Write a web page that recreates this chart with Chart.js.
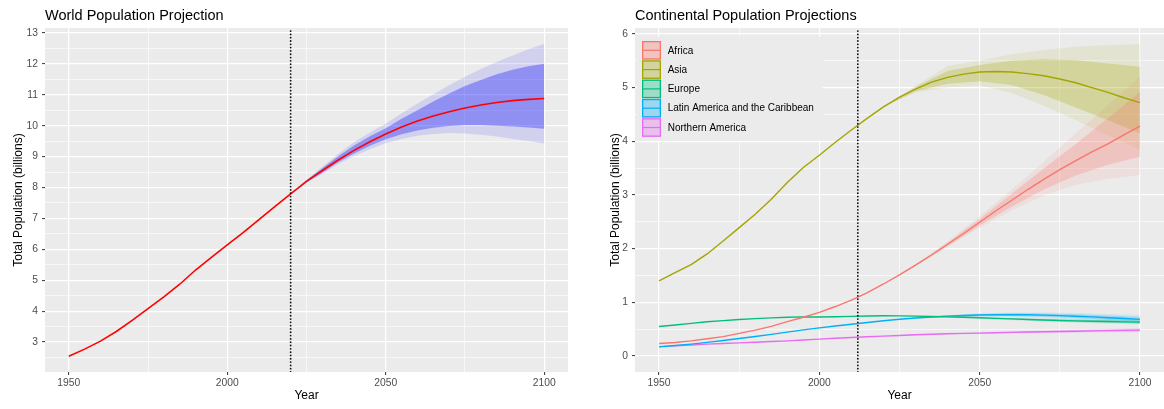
<!DOCTYPE html>
<html><head><meta charset="utf-8">
<script src="https://cdn.jsdelivr.net/npm/chart.js@4"></script>
<style>
html,body{margin:0;padding:0;background:#fff;}
#wrap{position:relative;width:1164px;height:409px;overflow:hidden;}
.panel{position:absolute;top:0;width:582px;height:409px;}
canvas{display:block;}
</style></head><body>
<div id="wrap">
<div class="panel" style="left:0"><canvas id="c1" width="582" height="409"></canvas></div>
<div class="panel" style="left:582px"><canvas id="c2" width="582" height="409"></canvas></div>
</div>
<script>
// ---------- DATA ----------
const years = [1950,1955,1960,1965,1970,1975,1980,1985,1990,1995,2000,2005,2010,2015,2020,2025,2030,2035,2040,2045,2050,2055,2060,2065,2070,2075,2080,2085,2090,2095,2100];
const worldPop = [2.54,2.77,3.03,3.34,3.70,4.08,4.46,4.87,5.33,5.74,6.14,6.54,6.96,7.38,7.79,8.20,8.55,8.89,9.20,9.48,9.73,9.96,10.15,10.31,10.45,10.57,10.67,10.75,10.81,10.85,10.88];
const worldBandYears = [2020,2025,2030,2035,2040,2045,2050,2055,2060,2065,2070,2075,2080,2085,2090,2095,2100];
const world80Low  = [7.79,8.17,8.48,8.82,9.10,9.35,9.56,9.72,9.84,9.93,9.99,10.02,10.02,10.00,9.97,9.94,9.90];
const world80High = [7.79,8.23,8.62,9.01,9.36,9.66,9.92,10.22,10.50,10.78,11.04,11.28,11.48,11.66,11.81,11.92,12.00];
const world95Low  = [7.79,8.15,8.44,8.76,9.02,9.24,9.43,9.57,9.67,9.73,9.76,9.75,9.71,9.65,9.57,9.50,9.42];
const world95High = [7.79,8.25,8.67,9.08,9.46,9.78,10.07,10.40,10.72,11.02,11.31,11.58,11.83,12.06,12.27,12.47,12.65];
const worldProjectionYear = 2020;

const continents = ['Africa','Asia','Europe','Latin America and the Caribbean','Northern America'];
const continentColors = ['#F8766D','#A3A500','#00BF7D','#00B0F6','#E76BF3'];
const africa  = [0.23,0.25,0.28,0.32,0.36,0.42,0.48,0.55,0.64,0.72,0.81,0.92,1.04,1.18,1.34,1.51,1.69,1.88,2.08,2.28,2.49,2.70,2.90,3.10,3.29,3.47,3.64,3.80,3.95,4.12,4.28];
const asia    = [1.40,1.55,1.70,1.90,2.14,2.39,2.64,2.92,3.23,3.51,3.74,3.98,4.21,4.43,4.64,4.82,4.97,5.10,5.19,5.25,5.29,5.30,5.29,5.26,5.22,5.16,5.09,5.00,4.91,4.81,4.72];
const europe  = [0.549,0.577,0.606,0.635,0.657,0.677,0.694,0.708,0.721,0.727,0.726,0.729,0.736,0.743,0.748,0.746,0.741,0.735,0.728,0.720,0.710,0.700,0.690,0.679,0.669,0.660,0.653,0.646,0.640,0.634,0.630];
const latam   = [0.169,0.193,0.220,0.252,0.287,0.324,0.362,0.402,0.443,0.484,0.522,0.558,0.591,0.623,0.654,0.682,0.706,0.726,0.741,0.753,0.762,0.767,0.768,0.766,0.759,0.751,0.740,0.727,0.712,0.697,0.680];
const northam = [0.173,0.187,0.204,0.219,0.231,0.242,0.254,0.267,0.280,0.296,0.312,0.328,0.343,0.357,0.369,0.381,0.393,0.404,0.414,0.420,0.425,0.431,0.438,0.444,0.450,0.455,0.460,0.466,0.471,0.476,0.480];

const bandYears = [2020,2030,2040,2050,2060,2070,2080,2090,2100];
const africa80Low   = [1.34,1.68,2.05,2.43,2.78,3.10,3.36,3.56,3.71];
const africa80High  = [1.34,1.70,2.11,2.55,3.02,3.49,3.95,4.43,4.92];
const africa95Low   = [1.34,1.67,2.03,2.39,2.71,2.99,3.19,3.30,3.37];
const africa95High  = [1.34,1.71,2.13,2.60,3.10,3.62,4.15,4.67,5.20];
const asia80Low     = [4.64,4.93,5.07,5.12,5.05,4.86,4.63,4.39,4.15];
const asia80High    = [4.64,5.01,5.31,5.42,5.50,5.53,5.51,5.45,5.39];
const asia95Low     = [4.64,4.91,5.00,5.04,4.90,4.66,4.39,4.11,3.84];
const asia95High    = [4.64,5.03,5.40,5.50,5.62,5.70,5.76,5.79,5.81];
const europe80Low   = [0.748,0.738,0.721,0.700,0.677,0.654,0.634,0.618,0.605];
const europe80High  = [0.748,0.744,0.735,0.720,0.703,0.684,0.672,0.662,0.655];
const europe95Low   = [0.748,0.735,0.715,0.692,0.666,0.641,0.619,0.601,0.585];
const europe95High  = [0.748,0.747,0.741,0.728,0.714,0.697,0.687,0.679,0.675];
const latam80Low    = [0.654,0.700,0.729,0.743,0.742,0.728,0.704,0.671,0.635];
const latam80High   = [0.654,0.712,0.753,0.781,0.794,0.790,0.776,0.753,0.725];
const latam95Low    = [0.654,0.696,0.721,0.731,0.726,0.708,0.680,0.643,0.600];
const latam95High   = [0.654,0.716,0.761,0.793,0.810,0.810,0.800,0.781,0.760];
const northam80Low  = [0.369,0.391,0.409,0.417,0.426,0.434,0.442,0.448,0.452];
const northam80High = [0.369,0.395,0.419,0.433,0.450,0.466,0.478,0.494,0.508];
const northam95Low  = [0.369,0.389,0.405,0.410,0.417,0.424,0.430,0.434,0.437];
const northam95High = [0.369,0.397,0.423,0.440,0.459,0.476,0.490,0.508,0.524];
const continentProjectionYear = 2012;

const xTicks = [1950,2000,2050,2100];
const worldYTicks = [3,4,5,6,7,8,9,10,11,12,13];
const contYTicks = [0,1,2,3,4,5,6];
const xRange = [1942.5, 2107.5];
const worldYRange = [2.03, 13.16];
const contYRange = [-0.3, 6.11];

// ---------- HELPERS ----------
const FONT = '"Liberation Sans", Arial, Helvetica, sans-serif';
function xy(xs, ys){ return xs.map((x,i)=>({x:x, y:ys[i]})); }
function rgba(hex, a){
  const n = parseInt(hex.slice(1),16);
  return 'rgba('+((n>>16)&255)+','+((n>>8)&255)+','+(n&255)+','+a+')';
}
function addBand(ds, xs, low, high, color, order){
  const lowIdx = ds.length;
  ds.push({data: xy(xs, low), borderWidth:0, borderColor:'rgba(0,0,0,0)', pointRadius:0, fill:false, order:order});
  ds.push({data: xy(xs, high), borderWidth:0, borderColor:'rgba(0,0,0,0)', pointRadius:0, fill:lowIdx, backgroundColor:color, order:order});
}
function vline(x, yr){
  return {data:[{x:x,y:yr[0]},{x:x,y:yr[1]}], borderColor:'#111111', borderWidth:1.8,
    borderDash:[0.01,3.3], borderCapStyle:'round', pointRadius:0, fill:false, order:0};
}
function axis(range, majors, sizeFn, pad){
  const step = majors[1]-majors[0];
  const minors = [];
  for (let k = -1; k < majors.length; k++){
    const v = majors[0] + step*k + step/2;
    if (v > range[0] && v < range[1]) minors.push(v);
  }
  const all = majors.concat(minors).sort((a,b)=>a-b);
  const isMajor = v => majors.some(m => Math.abs(m-v) < 1e-9);
  return {
    type:'linear', min:range[0], max:range[1], bounds:'data',
    afterBuildTicks: s => { s.ticks = all.map(v=>({value:v})); },
    afterFit: sizeFn,
    ticks:{autoSkip:false, maxRotation:0, minRotation:0, padding:pad, color:'#4D4D4D',
      font:{family:FONT, size:10.3}, callback: v => isMajor(v) ? String(v) : ''},
    grid:{color:'#FFFFFF', lineWidth: c => (c.tick && isMajor(c.tick.value)) ? 1.2 : 0.6,
      drawTicks:true, tickLength:3, tickWidth:1,
      tickColor: c => (c.tick && isMajor(c.tick.value)) ? '#333333' : 'rgba(0,0,0,0)'},
    border:{display:false}
  };
}
function panelPlugin(title, yTitleX){
  return {
    id:'ggPanel',
    beforeDraw(chart){
      const a = chart.chartArea, ctx = chart.ctx;
      ctx.save(); ctx.fillStyle = '#EBEBEB';
      ctx.fillRect(a.left, a.top, a.right-a.left, a.bottom-a.top); ctx.restore();
    },
    afterDraw(chart){
      const a = chart.chartArea, ctx = chart.ctx;
      ctx.save();
      ctx.fillStyle = '#000'; ctx.textBaseline = 'alphabetic';
      ctx.font = '14.5px ' + FONT; ctx.textAlign = 'left';
      ctx.fillText(title, a.left, 19.5);
      ctx.font = '12px ' + FONT; ctx.textAlign = 'center';
      ctx.fillText('Year', (a.left+a.right)/2, 399);
      ctx.translate(yTitleX, (a.top+a.bottom)/2); ctx.rotate(-Math.PI/2);
      ctx.fillText('Total Population (billions)', 0, 0);
      ctx.restore();
    }
  };
}
const legendPlugin = {
  id:'ggLegend',
  afterDatasetsDraw(chart){
    const ctx = chart.ctx;
    const kx = 60, ky = 41, kw = 19, kh = 18.6, pitch = 19.3;
    ctx.save();
    ctx.fillStyle = '#EBEBEB';
    ctx.fillRect(kx-5, ky-4, 186, pitch*continents.length+7);
    continents.forEach((name,i)=>{
      const top = ky + i*pitch, col = continentColors[i];
      ctx.fillStyle = rgba(col, 0.33);
      ctx.fillRect(kx, top, kw, kh);
      ctx.strokeStyle = col; ctx.lineWidth = 1.3;
      ctx.strokeRect(kx+0.65, top+0.65, kw-1.3, kh-1.3);
      ctx.beginPath(); ctx.moveTo(kx, top+kh/2); ctx.lineTo(kx+kw, top+kh/2);
      ctx.lineWidth = 1.2; ctx.stroke();
      ctx.fillStyle = '#000'; ctx.font = '10px ' + FONT;
      ctx.textAlign = 'left'; ctx.textBaseline = 'middle';
      ctx.fillText(name, 85.7, top + kh/2 + 0.5);
    });
    ctx.restore();
  }
};
const baseOpts = {responsive:false, animation:false, devicePixelRatio:1,
  plugins:{legend:{display:false}, tooltip:{enabled:false}, title:{display:false}},
  elements:{line:{tension:0}}};

// ---------- WORLD ----------
const ds1 = [];
addBand(ds1, worldBandYears, world95Low, world95High, 'rgba(0,0,255,0.11)', 3);
addBand(ds1, worldBandYears, world80Low, world80High, 'rgba(0,0,255,0.31)', 2);
ds1.push({data: xy(years, worldPop), borderColor:'#FF0000', borderWidth:1.6, pointRadius:0, fill:false, order:1});
ds1.push(vline(worldProjectionYear, worldYRange));
new Chart(document.getElementById('c1'), {
  type:'line', data:{datasets:ds1},
  options: Object.assign({}, baseOpts, {
    layout:{padding:{top:28, right:14, bottom:0, left:0}},
    scales:{
      x: axis(xRange, xTicks, s => { s.height = 37; }, 1.5),
      y: axis(worldYRange, worldYTicks, s => { s.width = 45; }, 4)
    }
  }),
  plugins:[panelPlugin('World Population Projection', 22)]
});

// ---------- CONTINENTS ----------
const contSeries = [africa, asia, europe, latam, northam];
const contBands = [
  [africa80Low, africa80High, africa95Low, africa95High],
  [asia80Low, asia80High, asia95Low, asia95High],
  [europe80Low, europe80High, europe95Low, europe95High],
  [latam80Low, latam80High, latam95Low, latam95High],
  [northam80Low, northam80High, northam95Low, northam95High]
];
const ds2 = [];
contBands.forEach((b,i)=> addBand(ds2, bandYears, b[2], b[3], rgba(continentColors[i],0.11), 3));
contBands.forEach((b,i)=> addBand(ds2, bandYears, b[0], b[1], rgba(continentColors[i],0.25), 2));
contSeries.forEach((s,i)=> ds2.push({data: xy(years, s), borderColor:continentColors[i], borderWidth:1.4, pointRadius:0, fill:false, order:1}));
ds2.push(vline(continentProjectionYear, contYRange));
new Chart(document.getElementById('c2'), {
  type:'line', data:{datasets:ds2},
  options: Object.assign({}, baseOpts, {
    layout:{padding:{top:28, right:0, bottom:0, left:0}},
    scales:{
      x: axis(xRange, xTicks, s => { s.height = 37; }, 1.5),
      y: axis(contYRange, contYTicks, s => { s.width = 53; }, 4)
    }
  }),
  plugins:[panelPlugin('Continental Population Projections', 36.6), legendPlugin]
});
</script>
</body></html>
